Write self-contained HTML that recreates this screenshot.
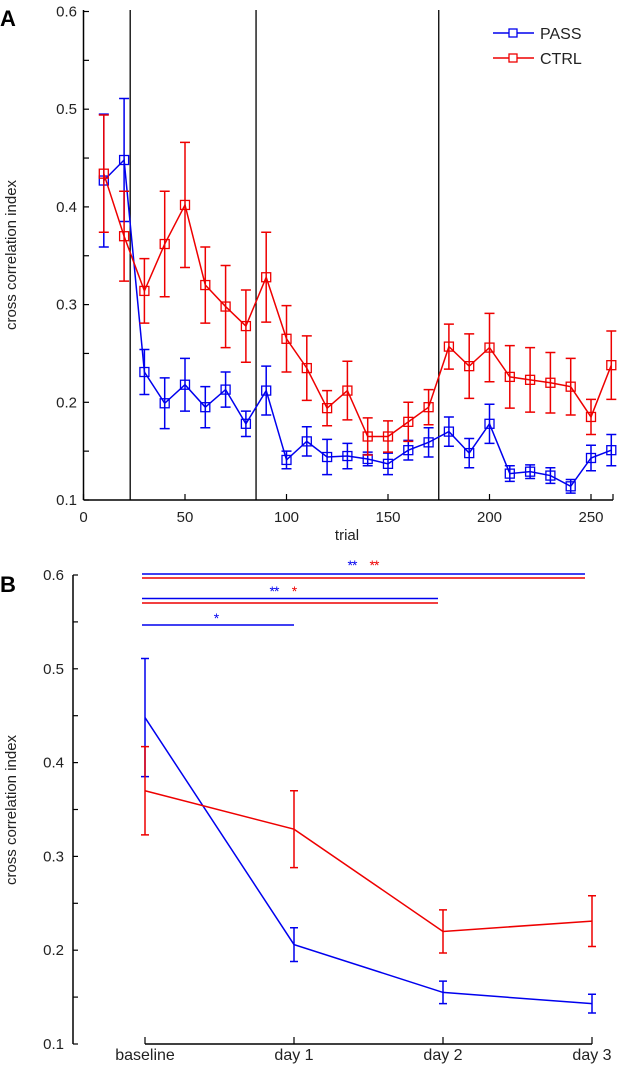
<!DOCTYPE html>
<html><head><meta charset="utf-8"><style>
html,body{margin:0;padding:0;background:#fff;}
svg{display:block;font-family:"Liberation Sans",Arial,sans-serif;}
</style></head><body>
<svg id="fig" width="617" height="1067" viewBox="0 0 617 1067">
<g id="A"></g>
<g id="B"></g>
</svg>
<script>
const trials = [10,20,30,40,50,60,70,80,90,100,110,120,130,140,150,160,170,180,190,200,210,220,230,240,250,260];
const passA = [0.427,0.448,0.231,0.199,0.218,0.195,0.213,0.178,0.212,0.141,0.160,0.144,0.145,0.142,0.137,0.151,0.159,0.170,0.148,0.178,0.127,0.129,0.125,0.114,0.143,0.151];
const passAErr = [0.068,0.063,0.023,0.026,0.027,0.021,0.018,0.013,0.025,0.009,0.015,0.018,0.013,0.007,0.011,0.010,0.015,0.015,0.015,0.020,0.008,0.007,0.008,0.007,0.013,0.016];
const ctrlA = [0.434,0.370,0.314,0.362,0.402,0.320,0.298,0.278,0.328,0.265,0.235,0.194,0.212,0.165,0.165,0.180,0.195,0.257,0.237,0.256,0.226,0.223,0.220,0.216,0.185,0.238];
const ctrlAErr = [0.060,0.046,0.033,0.054,0.064,0.039,0.042,0.037,0.046,0.034,0.033,0.018,0.030,0.019,0.016,0.020,0.018,0.023,0.033,0.035,0.032,0.033,0.031,0.029,0.018,0.035];
const boundaries = [23,85,175];
const xTicksA = [0,50,100,150,200,250];
const yTicks = [0.1,0.2,0.3,0.4,0.5,0.6];
const days = ["baseline","day 1","day 2","day 3"];
const passB = [0.448,0.206,0.155,0.143];
const passBErr = [0.063,0.018,0.012,0.010];
const ctrlB = [0.370,0.329,0.220,0.231];
const ctrlBErr = [0.047,0.041,0.023,0.027];

const NS="http://www.w3.org/2000/svg";
function mk(parent,tag,attrs,text){const e=document.createElementNS(NS,tag);for(const k in attrs)e.setAttribute(k,attrs[k]);if(text!==undefined)e.textContent=text;parent.appendChild(e);return e;}

// Panel A
const gA=document.getElementById('A');
const xA=v=>83.5+v*2.03;
const yA=v=>500-(v-0.1)*977;
let e;
e=mk(gA,'text',{x:0,y:26,'font-size':22,'font-weight':'bold'},'A');


e=mk(gA,'line',{x1:83.5,y1:10,x2:83.5,y2:500,stroke:'#000','stroke-width':1.5});


e=mk(gA,'line',{x1:83.5,y1:500,x2:613,y2:500,stroke:'#000','stroke-width':1.5});


mk(gA,'line',{x1:613,y1:500,x2:613,y2:494,stroke:'#000','stroke-width':1.2});
for(let v=0.1;v<=0.6001;v+=0.05){mk(gA,'line',{x1:83.5,y1:yA(v),x2:89,y2:yA(v),stroke:'#000','stroke-width':1.2});}
yTicks.forEach(v=>{e=mk(gA,'text',{x:77,y:yA(v)+5,'font-size':15,'text-anchor':'end',fill:'#222'},String(v));

});
xTicksA.forEach(v=>{mk(gA,'line',{x1:xA(v),y1:500,x2:xA(v),y2:494,stroke:'#000','stroke-width':1.2});
e=mk(gA,'text',{x:xA(v),y:522,'font-size':15,'text-anchor':'middle',fill:'#222'},String(v));

});
e=mk(gA,'text',{x:347,y:540,'font-size':15,'text-anchor':'middle',fill:'#222'},'trial');


e=mk(gA,'text',{x:0,y:0,'font-size':15,'text-anchor':'middle',fill:'#222',transform:'translate(16,255) rotate(-90)'},'cross correlation index');


boundaries.forEach(b=>{e=mk(gA,'line',{x1:xA(b),y1:10,x2:xA(b),y2:500,stroke:'#000','stroke-width':1.3});

});
function seriesA(vals,errs,color,name){
  const g=mk(gA,'g',{});
  
  
  mk(g,'polyline',{points:trials.map((t,i)=>xA(t)+','+yA(vals[i])).join(' '),fill:'none',stroke:color,'stroke-width':1.5});
  trials.forEach((t,i)=>{const x=xA(t),y1=yA(vals[i]+errs[i]),y2=yA(vals[i]-errs[i]);
    mk(g,'path',{d:`M${x},${y1}V${y2}M${x-5},${y1}H${x+5}M${x-5},${y2}H${x+5}`,stroke:color,'stroke-width':1.5,fill:'none'});
    const m=mk(g,'rect',{x:x-4.5,y:yA(vals[i])-4.5,width:9,height:9,fill:'none',stroke:color,'stroke-width':1.3});
    
    });
}
seriesA(passA,passAErr,'#0000ee','pass-series-a');
seriesA(ctrlA,ctrlAErr,'#ee0000','ctrl-series-a');
[['PASS','#0000ee',33],['CTRL','#ee0000',58]].forEach(([t,c,y])=>{
  const g=mk(gA,'g',{});
  
  
  mk(g,'line',{x1:493,y1:y,x2:534,y2:y,stroke:c,'stroke-width':1.5});
  mk(g,'rect',{x:509,y:y-4,width:8,height:8,fill:'#fff',stroke:c,'stroke-width':1.3});
  mk(g,'text',{x:540,y:y+6,'font-size':16,fill:'#222'},t);
});

// Panel B
const gB=document.getElementById('B');
const xB=i=>145+i*149;
const yB=v=>1044-(v-0.1)*938;
e=mk(gB,'text',{x:0,y:592,'font-size':22,'font-weight':'bold'},'B');


e=mk(gB,'line',{x1:73,y1:yB(0.6),x2:73,y2:1044,stroke:'#000','stroke-width':1.5});


for(let v=0.1;v<=0.6001;v+=0.05){mk(gB,'line',{x1:73,y1:yB(v),x2:78,y2:yB(v),stroke:'#000','stroke-width':1.2});}
yTicks.forEach(v=>{e=mk(gB,'text',{x:64,y:yB(v)+5,'font-size':15,'text-anchor':'end',fill:'#222'},String(v));

});
e=mk(gB,'line',{x1:xB(0),y1:1044,x2:xB(3),y2:1044,stroke:'#000','stroke-width':1.5});


days.forEach((d,i)=>{mk(gB,'line',{x1:xB(i),y1:1044,x2:xB(i),y2:1037,stroke:'#000','stroke-width':1.2});
e=mk(gB,'text',{x:xB(i),y:1060,'font-size':16,'text-anchor':'middle',fill:'#222'},d);

});
e=mk(gB,'text',{x:0,y:0,'font-size':15,'text-anchor':'middle',fill:'#222',transform:'translate(16,810) rotate(-90)'},'cross correlation index');


function seriesB(vals,errs,color,name){
  const g=mk(gB,'g',{});
  
  
  mk(g,'polyline',{points:vals.map((v,i)=>xB(i)+','+yB(v)).join(' '),fill:'none',stroke:color,'stroke-width':1.5});
  vals.forEach((v,i)=>{const x=xB(i),y1=yB(v+errs[i]),y2=yB(v-errs[i]);
    mk(g,'path',{d:`M${x},${y1}V${y2}M${x-4},${y1}H${x+4}M${x-4},${y2}H${x+4}`,stroke:color,'stroke-width':1.5,fill:'none'});});
}
seriesB(passB,passBErr,'#0000ee','pass-series-b');
seriesB(ctrlB,ctrlBErr,'#ee0000','ctrl-series-b');
[[574,585,'#0000ee'],[578,585,'#ee0000'],[598.5,438,'#0000ee'],[603,438,'#ee0000'],[625,294,'#0000ee']].forEach(([y,x2,c])=>{
  e=mk(gB,'line',{x1:142,y1:y,x2:x2,y2:y,stroke:c,'stroke-width':1.5});
  
  
});
[[352,570,'**','#0000ee'],[374,570,'**','#ee0000'],[274,596,'**','#0000ee'],[294,596,'*','#ee0000'],[216,623,'*','#0000ee']].forEach(([x,y,t,c])=>{
  e=mk(gB,'text',{x:x,y:y,'font-size':14,'text-anchor':'middle',fill:c,'letter-spacing':'-1'},t);
  
  
});
</script>
</body></html>
